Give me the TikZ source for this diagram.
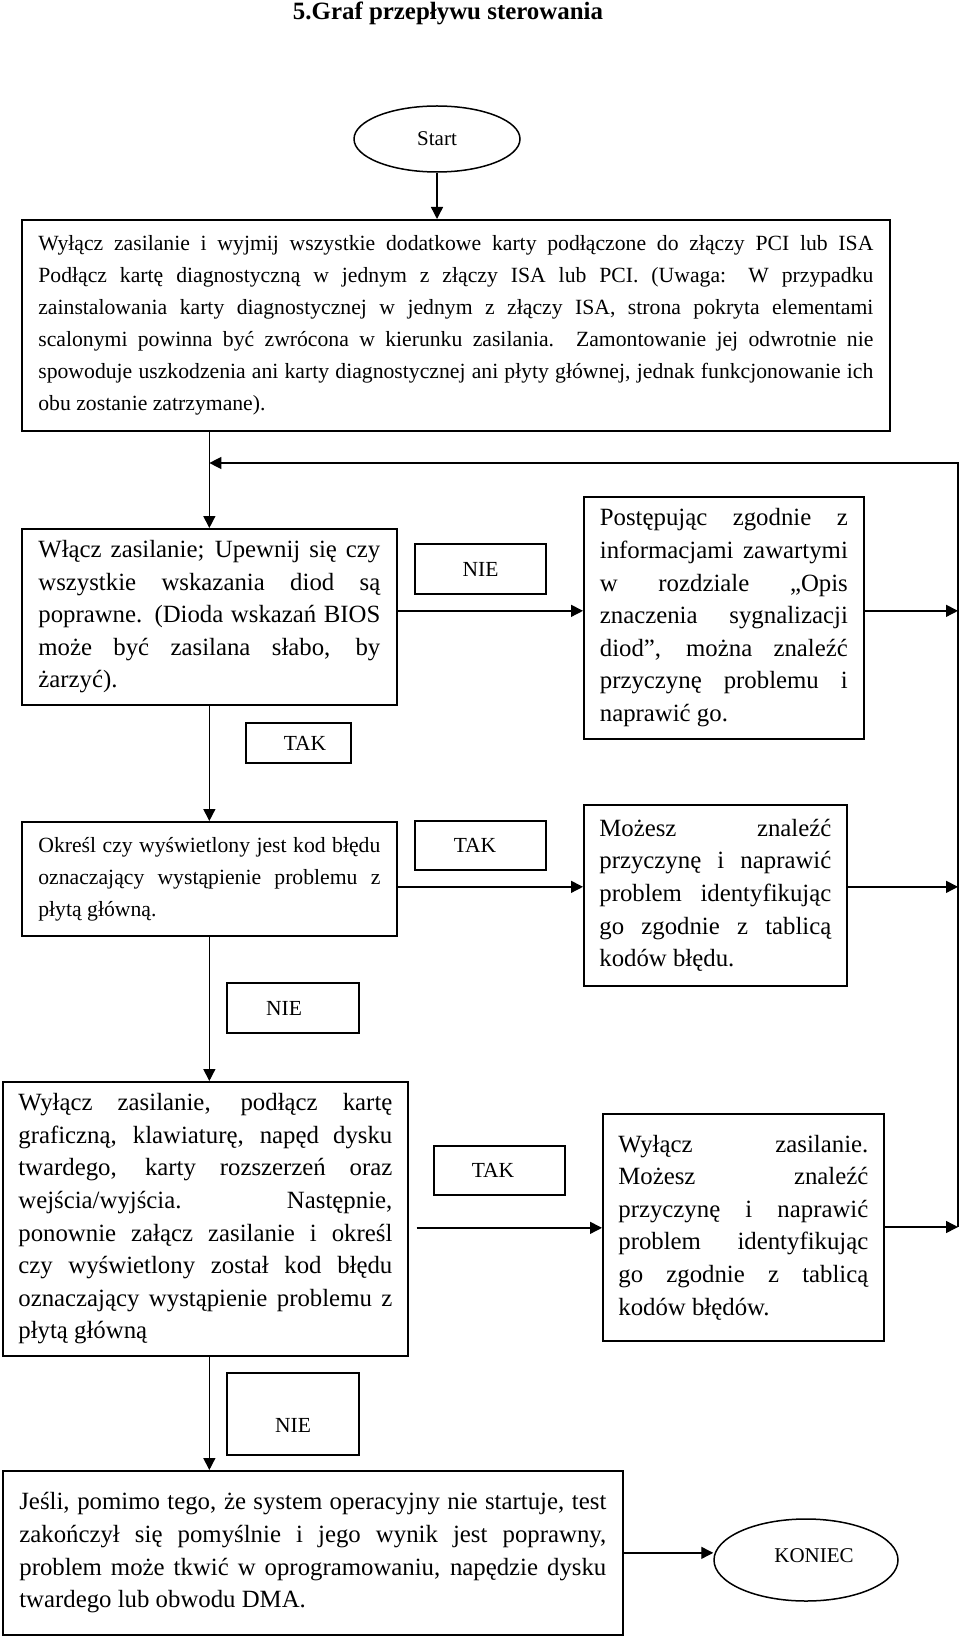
\documentclass[tikz,border=0pt]{standalone}
\usepackage{fontspec}
\setmainfont{Liberation Serif}
\usetikzlibrary{arrows.meta,shapes.geometric}
\newcommand{\jl}[2]{\makebox[#1][s]{#2}}
\begin{document}
\begin{tikzpicture}[x=0.5pt,y=-0.5pt,
  box/.style={draw, line width=0.85pt, rectangle, inner sep=0pt, anchor=north west, align=left},
  fsmall/.style={font=\fontsize{10.85pt}{16pt}\selectfont},
  fbig/.style={font=\fontsize{12.4pt}{16.3pt}\selectfont},
  lab/.style={draw, line width=0.85pt, rectangle, inner sep=0pt, font=\fontsize{10.75pt}{13pt}\selectfont},
  oval/.style={draw, ellipse, line width=0.75pt, inner sep=0pt, font=\fontsize{10.5pt}{13pt}\selectfont},
  arr/.style={line width=0.7pt, -{Triangle[length=6pt,width=6pt]}}]
\fill[white] (0,0) rectangle (960,1636);
\useasboundingbox (0,0) rectangle (960,1636);

\node[font=\bfseries\fontsize{12.45pt}{15pt}\selectfont] (title) at (448,13) {5.Graf przepływu sterowania};

\node[oval, minimum width=83pt, minimum height=33pt] (st) at (437,139) {Start};

\node[box, fsmall, minimum width=434pt, minimum height=105.5pt] (b1) at (21,219) {%
\jl{417.5pt}{Wyłącz zasilanie i wyjmij wszystkie dodatkowe karty podłączone do złączy PCI lub ISA}\\
\jl{417.5pt}{Podłącz kartę diagnostyczną w jednym z złączy ISA lub PCI. (Uwaga: W przypadku}\\
\jl{417.5pt}{zainstalowania karty diagnostycznej w jednym z złączy ISA, strona pokryta elementami}\\
\jl{417.5pt}{scalonymi powinna być zwrócona w kierunku zasilania. Zamontowanie jej odwrotnie nie}\\
\jl{417.5pt}{spowoduje uszkodzenia ani karty diagnostycznej ani płyty głównej, jednak funkcjonowanie ich}\\
obu zostanie zatrzymane).};

\node[box, fbig, minimum width=187.5pt, minimum height=88pt] (b2) at (21,528) {%
\jl{171pt}{Włącz zasilanie; Upewnij się czy}\\
\jl{171pt}{wszystkie wskazania diod są}\\
\jl{171pt}{poprawne. (Dioda wskazań BIOS}\\
\jl{171pt}{może być zasilana słabo, by}\\
żarzyć).};

\node[box, fbig, minimum width=140pt, minimum height=121pt] (b3) at (583,496) {%
\jl{124pt}{Postępując zgodnie z}\\
\jl{124pt}{informacjami zawartymi}\\
\jl{124pt}{w rozdziale „Opis}\\
\jl{124pt}{znaczenia sygnalizacji}\\
\jl{124pt}{diod”, można znaleźć}\\
\jl{124pt}{przyczynę problemu i}\\
naprawić go.};

\node[box, fsmall, minimum width=187.5pt, minimum height=57pt] (b4) at (21,821) {%
\jl{171pt}{Określ czy wyświetlony jest kod błędu}\\
\jl{171pt}{oznaczający wystąpienie problemu z}\\
płytą główną.};

\node[box, fbig, minimum width=131.5pt, minimum height=90.5pt] (b5) at (583,804) {%
\jl{116pt}{Możesz znaleźć}\\
\jl{116pt}{przyczynę i naprawić}\\
\jl{116pt}{problem identyfikując}\\
\jl{116pt}{go zgodnie z tablicą}\\
kodów błędu.};

\node[box, fbig, minimum width=202.5pt, minimum height=137pt] (b6) at (2,1081) {%
\jl{187pt}{Wyłącz zasilanie, podłącz kartę}\\
\jl{187pt}{graficzną, klawiaturę, napęd dysku}\\
\jl{187pt}{twardego, karty rozszerzeń oraz}\\
\jl{187pt}{wejścia/wyjścia. Następnie,}\\
\jl{187pt}{ponownie załącz zasilanie i określ}\\
\jl{187pt}{czy wyświetlony został kod błędu}\\
\jl{187pt}{oznaczający wystąpienie problemu z}\\
płytą główną};

\node[box, fbig, minimum width=140.5pt, minimum height=113.5pt] (b7) at (602,1113) {%
\jl{125pt}{Wyłącz zasilanie.}\\
\jl{125pt}{Możesz znaleźć}\\
\jl{125pt}{przyczynę i naprawić}\\
\jl{125pt}{problem identyfikując}\\
\jl{125pt}{go zgodnie z tablicą}\\
kodów błędów.};

\node[box, fbig, minimum width=310pt, minimum height=82pt] (b8) at (2,1470) {%
\jl{293.5pt}{Jeśli, pomimo tego, że system operacyjny nie startuje, test}\\
\jl{293.5pt}{zakończył się pomyślnie i jego wynik jest poprawny,}\\
\jl{293.5pt}{problem może tkwić w oprogramowaniu, napędzie dysku}\\
twardego lub obwodu DMA.};

\node[oval, minimum width=92pt, minimum height=41pt, text height=2.1pt, text depth=0pt] (ko) at (806,1560) {\hspace*{8pt}KONIEC};

\node[lab, minimum width=65.5pt, minimum height=25pt] (l1) at (480.5,569) {NIE};
\node[lab, minimum width=52.5pt, minimum height=20pt] (l2) at (298.5,743) {\hspace*{6.5pt}TAK};
\node[lab, minimum width=65.5pt, minimum height=24.5pt] (l3) at (480.5,845.5) {TAK\hspace*{5.5pt}};
\node[lab, minimum width=66pt, minimum height=25pt] (l4) at (293,1008) {NIE\hspace*{9pt}};
\node[lab, minimum width=65.5pt, minimum height=24.5pt] (l5) at (499.5,1170.5) {TAK\hspace*{6.5pt}};
\node[lab, minimum width=66pt, minimum height=41pt, text height=18.2pt, text depth=0pt] (l6) at (293,1414) {NIE};

\coordinate (rtop) at (958,463);
\coordinate (rbot) at (958,1227);

\draw[arr] (st.south) -- (st.south |- b1.north);
\draw[arr] (b1.south -| b2.north) -- (b2.north);
\draw[arr] (rbot) -- (rtop) -- (rtop -| b2.north);
\draw[arr] ([yshift=3pt]b2.east) -- ([yshift=3pt]b2.east -| b3.west);
\draw[arr] ([yshift=3pt]b2.east -| b3.east) -- ([yshift=3pt]b2.east -| rtop);
\draw[arr] (b2.south) -- (b4.north);
\draw[arr] ([yshift=-4pt]b4.east) -- ([yshift=-4pt]b4.east -| b5.west);
\draw[arr] ([yshift=-4pt]b4.east -| b5.east) -- ([yshift=-4pt]b4.east -| rtop);
\draw[arr] (b4.south) -- (b4.south |- b6.north);
\draw[arr] ([xshift=4pt,yshift=-4.5pt]b6.east) -- ([yshift=-4.5pt]b6.east -| b7.west);
\draw[arr] (b7.east |- rbot) -- (rbot);
\draw[arr] (b6.south -| b4.south) -- (b4.south |- b8.north);
\draw[arr] (b8.east) -- (b8.east -| ko.west);
\end{tikzpicture}
\end{document}
